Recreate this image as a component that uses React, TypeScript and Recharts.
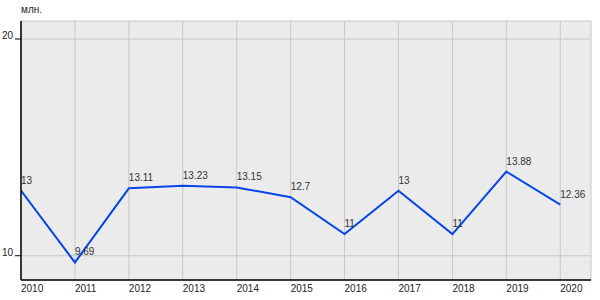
import React from 'react';
import { LineChart, Line, XAxis, YAxis, CartesianGrid, LabelList } from 'recharts';

const years = [2010, 2011, 2012, 2013, 2014, 2015, 2016, 2017, 2018, 2019, 2020];
const values = [13, 9.69, 13.11, 13.23, 13.15, 12.7, 11, 13, 11, 13.88, 12.36];
const yTicks = [10, 20];
const unitLabel = 'млн.';

const data = years.map((year, i) => ({ year, value: values[i] }));

const font = '"Liberation Sans", Arial, sans-serif';

const XTick = (props: any) => {
  const { x, y, payload } = props;
  return (
    <text x={x} y={y + 12} textAnchor="start" fontSize={10} fill="#222" fontFamily={font}>
      {payload.value}
    </text>
  );
};

const YTick = (props: any) => {
  const { x, y, payload } = props;
  return (
    <text x={x} y={y} textAnchor="end" fontSize={10} fill="#222" fontFamily={font}>
      {payload.value}
    </text>
  );
};

const PointLabel = (props: any) => {
  const { x, y, value } = props;
  return (
    <text x={x} y={y - 7} textAnchor="start" fontSize={10} fill="#333" fontFamily={font}>
      {value}
    </text>
  );
};

export default function App() {
  return (
    <div style={{ position: 'absolute', left: 0, top: 0, width: 600, height: 300, background: '#fff' }}>
      <span
        style={{
          position: 'absolute',
          left: 21,
          top: 5,
          fontSize: 10,
          lineHeight: 1,
          fontFamily: font,
          color: '#222',
        }}
      >
        {unitLabel}
      </span>
      <LineChart width={600} height={300} data={data} margin={{ top: 21, right: 9, left: 0, bottom: 0 }}>
        <CartesianGrid fill="#ebebeb" stroke="#c8c8c8" strokeWidth={1} />
        <XAxis
          dataKey="year"
          type="number"
          domain={[2010, 2020.57]}
          ticks={years}
          allowDataOverflow
          height={20}
          tickLine={false}
          tickSize={0}
          tickMargin={0}
          tick={<XTick />}
          axisLine={{ stroke: '#000', strokeWidth: 1.5 }}
        />
        <YAxis
          type="number"
          domain={[8.88, 20.83]}
          ticks={yTicks}
          allowDataOverflow
          width={21}
          tickSize={6}
          tickMargin={2}
          tickLine={{ stroke: '#000' }}
          tick={<YTick />}
          axisLine={{ stroke: '#000', strokeWidth: 1.5 }}
        />
        <Line
          type="linear"
          dataKey="value"
          stroke="#0645e8"
          strokeWidth={2}
          dot={false}
          isAnimationActive={false}
        >
          <LabelList dataKey="value" content={<PointLabel />} />
        </Line>
      </LineChart>
    </div>
  );
}
